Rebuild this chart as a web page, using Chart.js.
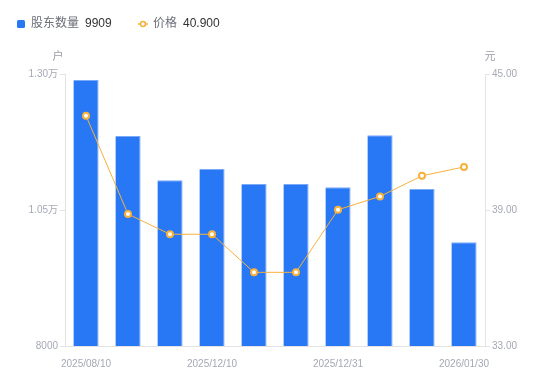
<!DOCTYPE html>
<html>
<head>
<meta charset="utf-8">
<script src="https://cdn.jsdelivr.net/npm/chart.js@4"></script>
<style>
html,body{margin:0;padding:0;background:#fff;}
#wrap{position:relative;width:550px;height:381px;}
</style>
</head>
<body>
<div id="wrap"><canvas id="c" width="550" height="381"></canvas></div>
<script>
const categories = ["2025/08/10","2025/09/30","2025/11/20","2025/12/10","2025/12/19","2025/12/26","2025/12/31","2026/01/09","2026/01/20","2026/01/30"];
const shownLabels = ["2025/08/10","2025/12/10","2025/12/31","2026/01/30"];
const holders = [12890, 11860, 11046, 11254, 10978, 10978, 10917, 11873, 10886, 9909];
const prices = [43.16, 38.82, 37.93, 37.93, 36.25, 36.25, 39.01, 39.60, 40.51, 40.90];
const leftTicks = [8000, 10500, 13000];
const rightTicks = [33, 39, 45];

const FONT = '"Liberation Sans", "Noto Sans CJK SC", Arial, sans-serif';
const BLUE = '#2878f5';
const ORANGE = '#f7b13c';
const TICK = '#a5a8b6';
const AXIS = '#e3e3e6';

const overlay = {
  id: 'overlay',
  afterDraw(chart) {
    const ctx = chart.ctx;
    ctx.save();
    ctx.textBaseline = 'middle';
    const y = 24;
    ctx.fillStyle = BLUE;
    ctx.beginPath();
    if (ctx.roundRect) ctx.roundRect(17, y - 4, 8, 8, 1.5); else ctx.rect(17, y - 4, 8, 8);
    ctx.fill();
    ctx.font = '12px ' + FONT;
    ctx.fillStyle = '#6b6e78';
    ctx.textAlign = 'left';
    ctx.fillText('股东数量', 31, y);
    ctx.fillStyle = '#333';
    ctx.fillText(String(holders[holders.length - 1]), 85, y);
    ctx.strokeStyle = ORANGE;
    ctx.lineWidth = 1.5;
    ctx.beginPath();
    ctx.moveTo(138, y); ctx.lineTo(148, y); ctx.stroke();
    ctx.beginPath();
    ctx.arc(143, y, 2.5, 0, Math.PI * 2);
    ctx.fillStyle = '#fff';
    ctx.fill();
    ctx.stroke();
    ctx.fillStyle = '#6b6e78';
    ctx.fillText('价格', 153, y);
    ctx.fillStyle = '#333';
    ctx.fillText(prices[prices.length - 1].toFixed(3), 183, y);
    ctx.font = '11px ' + FONT;
    ctx.fillStyle = '#9a9ca8';
    ctx.textAlign = 'center';
    ctx.fillText('户', 58, 57);
    ctx.fillText('元', 490, 57);
    ctx.restore();
  }
};

new Chart(document.getElementById('c'), {
  data: {
    labels: categories,
    datasets: [
      {
        type: 'line',
        label: '价格',
        data: prices,
        yAxisID: 'y1',
        borderColor: ORANGE,
        borderWidth: 1,
        pointRadius: 3,
        pointBorderWidth: 2,
        pointBackgroundColor: '#fff',
        pointBorderColor: ORANGE,
        tension: 0,
        order: 0
      },
      {
        type: 'bar',
        label: '股东数量',
        data: holders,
        yAxisID: 'y',
        backgroundColor: BLUE,
        borderColor: '#7aaaf7',
        borderWidth: {top: 1, right: 1, left: 0, bottom: 0},
        borderSkipped: 'bottom',
        categoryPercentage: 1,
        barPercentage: 0.6,
        order: 1
      }
    ]
  },
  options: {
    responsive: false,
    animation: false,
    devicePixelRatio: 1,
    layout: {padding: {top: 74, left: 0, right: 0, bottom: 0}},
    plugins: {legend: {display: false}, tooltip: {enabled: false}},
    scales: {
      x: {
        grid: {display: false},
        border: {display: true, color: AXIS},
        ticks: {
          autoSkip: false,
          maxRotation: 0,
          color: TICK,
          font: {size: 10, family: FONT},
          padding: 4,
          callback: function(v) {
            const l = categories[v];
            return shownLabels.includes(l) ? l : '';
          }
        },
        afterFit: s => { s.height = 35; }
      },
      y: {
        position: 'left',
        min: 8000, max: 13000,
        afterBuildTicks: s => { s.ticks = leftTicks.map(v => ({value: v})); },
        grid: {display: true, drawOnChartArea: false, drawTicks: true, tickLength: 5, color: AXIS},
        border: {display: true, color: AXIS},
        ticks: {
          color: TICK,
          font: {size: 10, family: FONT},
          padding: 2,
          callback: v => v >= 10000 ? (v / 10000).toFixed(2) + '万' : String(v)
        },
        afterFit: s => { s.width = 65; }
      },
      y1: {
        position: 'right',
        min: 33, max: 45,
        afterBuildTicks: s => { s.ticks = rightTicks.map(v => ({value: v})); },
        grid: {display: true, drawOnChartArea: false, drawTicks: true, tickLength: 5, color: AXIS},
        border: {display: true, color: AXIS},
        ticks: {
          color: TICK,
          font: {size: 10, family: FONT},
          padding: 2,
          callback: v => Number(v).toFixed(2)
        },
        afterFit: s => { s.width = 65; }
      }
    }
  },
  plugins: [overlay]
});
</script>
</body>
</html>
